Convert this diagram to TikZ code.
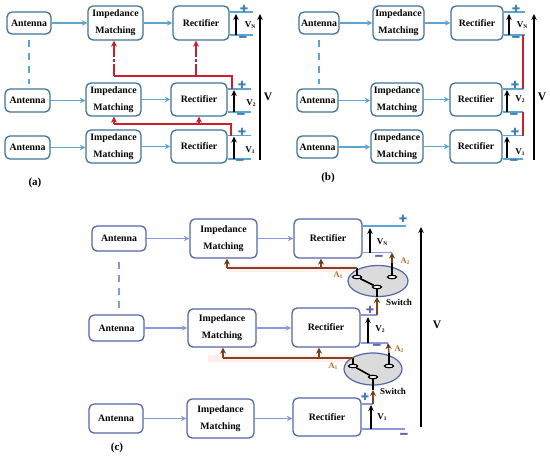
\documentclass[tikz,border=0pt]{standalone}
\usepackage{fontspec}
\setmainfont{Liberation Serif}
\newfontfamily\symfont{DejaVu Sans}
\usetikzlibrary{arrows.meta,shapes.geometric}
\definecolor{boxA}{HTML}{3F7397}
\definecolor{wireA}{HTML}{5CA5D3}
\definecolor{boxC}{HTML}{5566A6}
\definecolor{wireC}{HTML}{8A98DC}
\definecolor{redL}{HTML}{C8202F}
\definecolor{brownL}{HTML}{84401F}
\definecolor{orangeL}{HTML}{A9702A}
\definecolor{signA}{HTML}{3F7FB0}
\definecolor{signC}{HTML}{6A62B0}
\newcommand{\subs}[1]{\raisebox{-1pt}{\fontsize{5.5}{6}\selectfont #1}}
\newcommand{\bx}[7][boxa]{\node[#1,minimum width={(#5-#3)*1pt},minimum height={(#6-#4)*1pt}] (#2) at ({(#3+#5)/2},{(#4+#6)/2}) {#7};}
\newcommand{\plusA}{{\symfont\fontsize{10}{10}\selectfont ✚}}
\newcommand{\minusA}{{\symfont\fontsize{12}{12}\selectfont\bfseries ━}}
\tikzset{
 x=1pt,y=-1pt,
 boxa/.style={draw=boxA,line width=1.3pt,rounded corners=5pt,fill=white,align=center,inner sep=0pt,
   font=\fontsize{9.8}{17}\selectfont\bfseries},
 boxc/.style={boxa,draw=boxC},
 wa/.style={draw=wireA,line width=1.2pt},
 wc/.style={draw=wireC,line width=1.2pt},
 fa/.style={wa,-{Stealth[length=5.5pt,width=5.5pt]}},
 fc/.style={wc,-{Stealth[length=5.5pt,width=5.5pt]}},
 dsh/.style={line width=1.4pt,dash pattern=on 7pt off 6pt},
 va/.style={draw=black,line width=1.3pt,-{Stealth[length=6pt,width=5.5pt]}},
 rd/.style={draw=redL,line width=1.4pt},
 rda/.style={rd,-{Stealth[length=6pt,width=6pt]}},
 br/.style={draw=brownL,line width=1.3pt},
 bra/.style={br,-{Stealth[length=6pt,width=6pt,color=orangeL!60!black]}},
 halo/.style={draw=pink!25,line width=7pt},
 lbl/.style={inner sep=0pt,font=\fontsize{9}{9}\selectfont\bfseries},
 bigv/.style={inner sep=0pt,font=\fontsize{11.5}{11}\selectfont\bfseries},
 captxt/.style={inner sep=0pt,font=\fontsize{11}{11}\selectfont\bfseries},
 sgna/.style={inner sep=0pt,text=signA},
 sgnc/.style={inner sep=0pt,text=signC},
 sw/.style={ellipse,draw=boxC,line width=1.2pt,fill=gray!28,inner sep=0pt},
 term/.style={ellipse,draw=black,line width=1.1pt,fill=white,minimum width=9pt,minimum height=3.5pt,inner sep=0pt},
 alab/.style={inner sep=0pt,font=\fontsize{8.5}{9}\selectfont\bfseries,text=orangeL},
}
\begin{document}
\begin{tikzpicture}
\useasboundingbox (0,0) rectangle (550,456);
\fill[white] (0,0) rectangle (550,456);
% ---------- (a)
\bx{aA1}{7}{12}{51}{34}{Antenna}
\bx{aI1}{88}{6}{143}{40}{Impedance\\Matching}
\bx{aR1}{173}{6}{229}{40}{Rectifier}
\bx{aA2}{5}{89}{50}{112}{Antenna}
\bx{aI2}{86}{83}{141}{116}{Impedance\\Matching}
\bx{aR2}{171}{83}{227}{116}{Rectifier}
\bx{aA3}{5}{136}{50}{159}{Antenna}
\bx{aI3}{86}{130}{141}{163}{Impedance\\Matching}
\bx{aR3}{171}{130}{227}{163}{Rectifier}
\foreach \n in {1,2,3}{
 \draw[fa] (aA\n.east) -- (aA\n.east -| aI\n.west);
 \draw[fa] (aI\n.east) -- (aI\n.east -| aR\n.west);
}
\draw[wa,dsh] (29,40) -- (29,84);
\coordinate (ap1) at (253,12); \coordinate (am1) at (253,35);
\coordinate (ap2) at (251,89); \coordinate (am2) at (251,112);
\coordinate (ap3) at (251,135.5); \coordinate (am3) at (251,159);
\foreach \n in {1,2,3}{
 \draw[wa] (ap\n -| aR\n.east) -- (ap\n);
 \draw[wa] (am\n -| aR\n.east) -- (am\n);
}
\draw[va] (236,35) -- (236,14);
\draw[va] (234,112) -- (234,90);
\draw[va] (234,159) -- (234,136.5);
\node[lbl] (aV1) at (250,25.5) {V\subs{N}};
\node[lbl] (aV2) at (251,103) {V\subs{2}};
\node[lbl] (aV3) at (250,150) {V\subs{1}};
\node[sgna] (aP1) at (244,8.5) {\plusA};
\node[sgna] (aM1) at (243,39) {\minusA};
\node[sgna] (aP2) at (242,85) {\plusA};
\node[sgna] (aM2) at (241,116) {\minusA};
\node[sgna] (aP3) at (242,132) {\plusA};
\node[sgna] (aM3) at (240,162) {\minusA};
\draw[va] (260,160) -- (260,14);
\node[bigv] (aV) at (268,97) {V};
% red feedback
\coordinate (ab) at (232,76); \coordinate (ac) at (231,124);
\draw[rd] (232,89) -- (ab) -- (114,76);
\draw[rda,dash pattern=on 12pt off 2pt on 3pt off 2pt on 30pt] (114,76) -- (aI1.south -| 114,0);
\draw[rda,dash pattern=on 12pt off 2pt on 3pt off 2pt on 30pt] (196,76) -- (aR1.south -| 196,0);
\draw[rd] (231,135.5) -- (ac) -- (114,124);
\draw[rda] (114,124) -- (aI2.south -| 114,0);
\draw[rda] (199,124) -- (aR2.south -| 199,0);
\node[captxt] (capa) at (35,183) {(a)};
% ---------- (b)
\bx{bA1}{299}{12}{339}{34}{Antenna}
\bx{bI1}{373}{6}{424}{40}{Impedance\\Matching}
\bx{bR1}{451}{6}{503}{40}{Rectifier}
\bx{bA2}{297}{89}{338}{112}{Antenna}
\bx{bI2}{371}{83}{423}{116}{Impedance\\Matching}
\bx{bR2}{450}{83}{502}{116}{Rectifier}
\bx{bA3}{297}{136}{338}{158}{Antenna}
\bx{bI3}{371}{130}{423}{163}{Impedance\\Matching}
\bx{bR3}{450}{130}{502}{163}{Rectifier}
\foreach \n in {1,2,3}{
 \draw[fa] (bA\n.east) -- (bA\n.east -| bI\n.west);
 \draw[fa] (bI\n.east) -- (bI\n.east -| bR\n.west);
}
\draw[wa,dsh] (319,40) -- (319,84);
\coordinate (bp1) at (525,12); \coordinate (bm1) at (525,35);
\coordinate (bp2) at (523,89); \coordinate (bm2) at (523,112);
\coordinate (bp3) at (523,135.5); \coordinate (bm3) at (523,159);
\foreach \n in {1,2,3}{
 \draw[wa] (bp\n -| bR\n.east) -- (bp\n);
 \draw[wa] (bm\n -| bR\n.east) -- (bm\n);
}
\draw[rd] (523,35) -- (bp2);
\draw[rd] (bm2) -- (bp3);
\draw[va] (509,35) -- (509,14);
\draw[va] (507,112) -- (507,90);
\draw[va] (507,158) -- (507,136.5);
\node[lbl] (bV1) at (522,25.5) {V\subs{N}};
\node[lbl] (bV2) at (520,99.5) {V\subs{2}};
\node[lbl] (bV3) at (520,152) {V\subs{1}};
\node[sgna] (bP1) at (516,8.5) {\plusA};
\node[sgna] (bM1) at (516,39) {\minusA};
\node[sgna] (bP2) at (515,85) {\plusA};
\node[sgna] (bM2) at (514,116) {\minusA};
\node[sgna] (bP3) at (515,132) {\plusA};
\node[sgna] (bM3) at (514,162) {\minusA};
\draw[va] (534,160) -- (534,14);
\node[bigv] (bV) at (542,97) {V};
\node[captxt] (capb) at (328,178) {(b)};
% ---------- (c)
\bx[boxc]{cA1}{92}{226}{146}{251}{Antenna}
\bx[boxc]{cI1}{190}{219}{257}{258}{Impedance\\Matching}
\bx[boxc]{cR1}{294}{219}{362}{258}{Rectifier}
\bx[boxc]{cA2}{89}{315}{144}{341}{Antenna}
\bx[boxc]{cI2}{188}{309}{256}{347}{Impedance\\Matching}
\bx[boxc]{cR2}{292}{308}{360}{347}{Rectifier}
\bx[boxc]{cA3}{89}{404}{143}{433}{Antenna}
\bx[boxc]{cI3}{187}{399}{254}{438}{Impedance\\Matching}
\bx[boxc]{cR3}{293}{398}{361}{436}{Rectifier}
\foreach \n in {1,2,3}{
 \draw[fc] (cA\n.east) -- (cA\n.east -| cI\n.west);
 \draw[fc] (cI\n.east) -- (cI\n.east -| cR\n.west);
}
\draw[wc,dsh] (119,262) -- (119,309);
% pale halos behind the feedback lines
\draw[halo] (225,268) -- (357,268);
\draw[halo] (208,358) -- (352,358);
% switches
\node[sw,minimum width=60pt,minimum height=31pt] (s1) at (378,281) {};
\node[sw,minimum width=58pt,minimum height=32pt] (s2) at (373,369) {};
\node[term] (t1a) at (357,277) {};
\node[term] (t1b) at (392,277) {};
\node[term] (t1c) at (377,287) {};
\node[term] (t2a) at (353,366) {};
\node[term] (t2b) at (389,366) {};
\node[term] (t2c) at (373,377) {};
\draw[line width=1.6pt] (t1a) -- (t1c);
\draw[line width=1.6pt] (t2a) -- (t2c);
% output rails
\coordinate (cp1) at (406,226); \coordinate (cm1) at (392,252.5);
\coordinate (cp2) at (377,315); \coordinate (cm2) at (388,343);
\coordinate (cp3) at (373,404); \coordinate (cm3) at (405,429);
\foreach \n in {2,3}{
 \draw[wc] (cp\n -| cR\n.east) -- (cp\n);
 \draw[wc] (cm\n -| cR\n.east) -- (cm\n);
}
\draw[wa] (cp1 -| cR1.east) -- (cp1);
\draw[wc] (cm1 -| cR1.east) -- (cm1);
% stems
\draw[line width=1.6pt] (t1a.north) -- (357,268);
\draw[line width=1.6pt] (t1b.north) -- (392,263);
\draw[line width=1.6pt] (t1c.south) -- (377,297);
\draw[line width=1.6pt] (t2a.north) -- (353,358);
\draw[line width=1.6pt] (t2b.north) -- (389,353);
\draw[line width=1.6pt] (t2c.south) -- (373,390);
% brown feedback
\draw[br] (357,268) -- (227,268);
\draw[bra] (227,268) -- (cI1.south -| 227,0);
\draw[bra] (321,268) -- (cR1.south -| 321,0);
\draw[bra] (392,263) -- (cm1);
\draw[bra] (cp2) -- (377,297);
\draw[br] (353,358) -- (223,358);
\draw[bra] (223,358) -- (cI2.south -| 223,0);
\draw[bra] (319,358) -- (cR2.south -| 319,0);
\draw[bra] (389,353) -- (cm2);
\draw[bra] (cp3) -- (373,390);
% voltages
\draw[va] (370,252.5) -- (370,228);
\draw[va] (368,343) -- (368,317);
\draw[va] (371,429) -- (371,405);
\node[lbl] (cV1) at (382,242) {V\subs{N}};
\node[lbl] (cV2) at (380,329) {V\subs{2}};
\node[lbl] (cV3) at (382,417) {V\subs{1}};
\node[sgna] (cP1) at (403,219) {\plusA};
\node[sgnc] (cM1) at (379,258) {\minusA};
\node[sgnc] (cP2) at (370,310) {\plusA};
\node[sgnc] (cM2) at (377,347) {\minusA};
\node[sgna] (cP3) at (365,397) {\plusA};
\node[sgnc] (cM3) at (404,436) {\minusA};
\node[alab] (cA11) at (338,275) {A\subs{1}};
\node[alab] (cA12) at (405,261) {A\subs{2}};
\node[alab] (cA21) at (333,366) {A\subs{1}};
\node[alab] (cA22) at (399,349) {A\subs{2}};
\node[lbl] (cS1) at (399,302) {Switch};
\node[lbl] (cS2) at (393,391) {Switch};
\draw[va] (421,427) -- (421,227);
\node[bigv] (cV) at (437,325) {V};
\node[captxt] (capc) at (117,448) {(c)};
\end{tikzpicture}
\end{document}
